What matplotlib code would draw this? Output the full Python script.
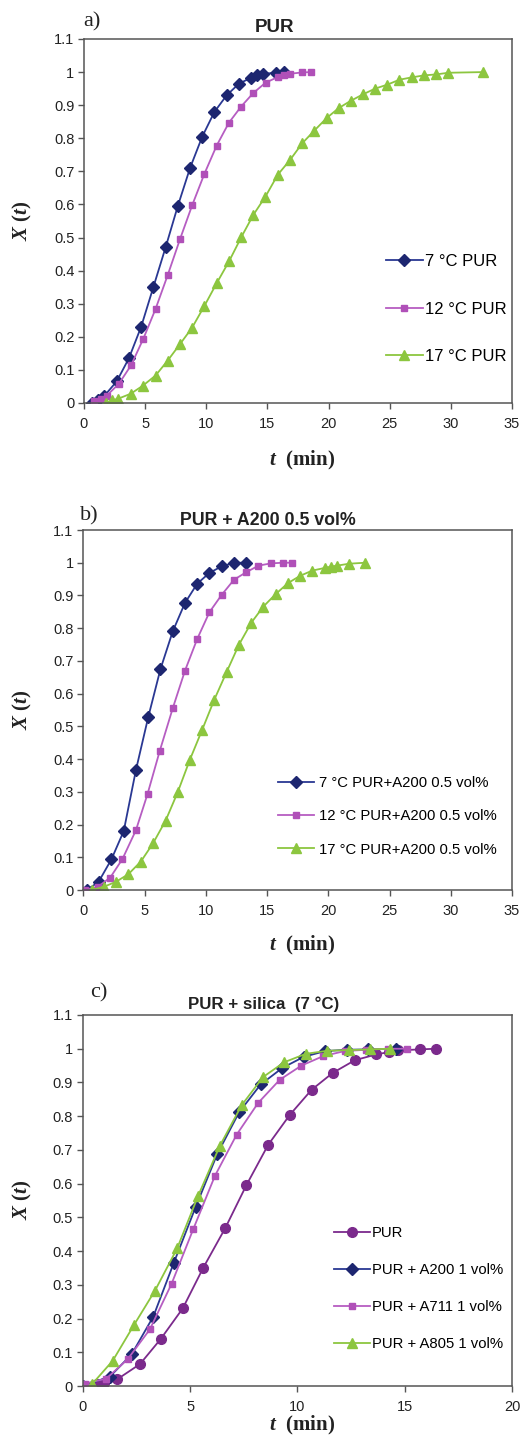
import matplotlib
matplotlib.use('Agg')
import matplotlib.pyplot as plt

plt.rcParams['font.family'] = ['Liberation Sans', 'DejaVu Sans']
plt.rcParams['mathtext.fontset'] = 'custom'
plt.rcParams['mathtext.it'] = 'Liberation Serif:italic:bold'
plt.rcParams['mathtext.rm'] = 'Liberation Serif:bold'
plt.rcParams['mathtext.bf'] = 'Liberation Serif:bold'

# ---- panel a: PUR at three temperatures ----
t_a7 = [0.67, 1.17, 1.67, 2.67, 3.67, 4.67, 5.67, 6.67, 7.67, 8.67, 9.67, 10.67,
        11.67, 12.67, 13.67, 14.17, 14.67, 15.67, 16.35]
x_a7 = [0.0, 0.01, 0.022, 0.065, 0.135, 0.23, 0.35, 0.47, 0.595, 0.71, 0.805, 0.88,
        0.93, 0.965, 0.983, 0.99, 0.995, 0.998, 1.0]
t_a12 = [0.85, 1.35, 1.85, 2.85, 3.85, 4.85, 5.85, 6.85, 7.85, 8.85, 9.85, 10.85,
         11.85, 12.85, 13.85, 14.85, 15.85, 16.35, 16.85, 17.85, 18.6]
x_a12 = [0.005, 0.012, 0.022, 0.058, 0.114, 0.194, 0.284, 0.387, 0.495, 0.598, 0.693,
         0.778, 0.847, 0.896, 0.937, 0.968, 0.985, 0.992, 0.995, 0.999, 1.0]
t_a17 = [1.8, 2.3, 2.8, 3.82, 4.8, 5.85, 6.84, 7.85, 8.83, 9.84, 10.85, 11.86, 12.86,
         13.84, 14.84, 15.85, 16.86, 17.85, 18.83, 19.84, 20.82, 21.8, 22.83, 23.8,
         24.8, 25.8, 26.8, 27.8, 28.8, 29.8, 32.6]
x_a17 = [0.0, 0.008, 0.013, 0.028, 0.052, 0.083, 0.128, 0.178, 0.227, 0.293, 0.362,
         0.428, 0.501, 0.568, 0.624, 0.69, 0.735, 0.785, 0.823, 0.861, 0.891, 0.913,
         0.933, 0.95, 0.962, 0.977, 0.984, 0.99, 0.993, 0.998, 1.0]

# ---- panel b: PUR + A200 0.5 vol% ----
t_b7 = [0.3, 1.25, 2.3, 3.3, 4.3, 5.3, 6.3, 7.3, 8.3, 9.3, 10.3, 11.3, 12.3, 13.3]
x_b7 = [0.0, 0.025, 0.094, 0.18, 0.367, 0.528, 0.675, 0.79, 0.877, 0.936, 0.969,
        0.989, 1.0, 1.0]
t_b12 = [0.1, 1.2, 2.2, 3.2, 4.3, 5.25, 6.25, 7.3, 8.3, 9.3, 10.3, 11.3, 12.3, 13.3,
         14.3, 15.3, 16.3, 17.0]
x_b12 = [0.0, 0.01, 0.038, 0.095, 0.183, 0.294, 0.426, 0.555, 0.67, 0.767, 0.849,
         0.902, 0.948, 0.971, 0.991, 0.998, 1.0, 1.0]
t_b17 = [0.68, 1.69, 2.66, 3.67, 4.7, 5.7, 6.72, 7.7, 8.7, 9.7, 10.7, 11.7, 12.7,
         13.72, 14.7, 15.7, 16.72, 17.7, 18.7, 19.7, 20.2, 20.7, 21.7, 23.0]
x_b17 = [0.0, 0.01, 0.025, 0.048, 0.087, 0.143, 0.212, 0.298, 0.398, 0.489, 0.582,
         0.666, 0.749, 0.817, 0.866, 0.904, 0.938, 0.96, 0.976, 0.984, 0.988, 0.991,
         0.997, 1.0]

# ---- panel c: PUR + silica at 7 °C ----
t_cpur = [0.65, 0.98, 1.61, 2.67, 3.63, 4.66, 5.62, 6.64, 7.63, 8.64, 9.65, 10.66,
          11.64, 12.68, 13.67, 14.25, 14.7, 15.7, 16.45]
x_cpur = [0.005, 0.008, 0.02, 0.065, 0.139, 0.23, 0.351, 0.468, 0.596, 0.715, 0.804,
          0.878, 0.928, 0.966, 0.983, 0.99, 0.995, 0.998, 1.0]
t_c200 = [0.0, 1.27, 2.28, 3.29, 4.25, 5.27, 6.27, 7.29, 8.29, 9.3, 10.3, 11.3, 12.3,
          13.3, 14.6]
x_c200 = [0.0, 0.028, 0.094, 0.206, 0.366, 0.532, 0.688, 0.812, 0.894, 0.943, 0.976,
          0.993, 0.997, 0.998, 1.0]
t_c711 = [0.1, 1.1, 2.09, 3.13, 4.14, 5.15, 6.16, 7.17, 8.17, 9.18, 10.19, 11.2, 12.2,
          13.2, 14.2, 15.1]
x_c711 = [0.007, 0.022, 0.079, 0.168, 0.303, 0.465, 0.623, 0.745, 0.839, 0.908, 0.95,
          0.978, 0.993, 0.997, 1.0, 1.0]
t_c805 = [0.43, 1.4, 2.39, 3.37, 4.4, 5.38, 6.39, 7.4, 8.4, 9.39, 10.4, 11.4, 12.4,
          13.4, 14.3]
x_c805 = [0.005, 0.075, 0.181, 0.283, 0.408, 0.564, 0.712, 0.832, 0.916, 0.96, 0.985,
          0.994, 0.996, 0.998, 1.0]

NAVY = '#2A3893'
NAVY_M = '#1D2670'
PINK = '#B65DC2'
PINK_M = '#B050B8'
GREEN = '#8CC63F'
PURPLE = '#7B2A8C'

STYLE = {
    'navy': dict(color=NAVY, marker='D', markersize=6, markerfacecolor=NAVY_M,
                 markeredgecolor=NAVY_M),
    'pink': dict(color=PINK, marker='s', markersize=5, markerfacecolor=PINK_M,
                 markeredgecolor=PINK_M),
    'green': dict(color=GREEN, marker='^', markersize=7.5, markerfacecolor=GREEN,
                  markeredgecolor=GREEN),
    'purple': dict(color=PURPLE, marker='o', markersize=7, markerfacecolor=PURPLE,
                   markeredgecolor=PURPLE),
}

W, H = 525, 1441
fig = plt.figure(figsize=(W / 100, H / 100), dpi=100)


def px_axes(left, right, top, bottom):
    return fig.add_axes([left / W, 1 - bottom / H, (right - left) / W, (bottom - top) / H])


def style_axes(ax, xmax, xstep):
    ax.set_xlim(0, xmax)
    ax.set_ylim(0, 1.1)
    ax.set_xticks(range(0, xmax + 1, xstep))
    ax.set_yticks([i / 10 for i in range(12)])
    ax.set_yticklabels(['0', '0.1', '0.2', '0.3', '0.4', '0.5', '0.6', '0.7', '0.8',
                        '0.9', '1', '1.1'])
    for s in ax.spines.values():
        s.set_color('#555555')
        s.set_linewidth(1.1)
    ax.tick_params(direction='out', length=4, width=1, color='#555555',
                   labelsize=10.5, labelcolor='#222222', pad=3)
    ax.tick_params(axis='x', pad=6)


def labels(ax, tag, tag_xy, title, title_size, title_xy, ylab_y, xlab_y, xlab_x):
    fig.text(tag_xy[0] / W, 1 - tag_xy[1] / H, tag, family='Liberation Serif',
             fontsize=16, ha='left', va='center', color='#222222')
    fig.text(title_xy[0] / W, 1 - title_xy[1] / H, title, fontsize=title_size,
             fontweight='bold', ha='center', va='center', color='#222222')
    fig.text(22 / W, 1 - ylab_y / H, r'$X\ (t)$', fontsize=15, rotation=90,
             ha='center', va='center', color='#222222')
    fig.text(xlab_x / W, 1 - xlab_y / H, r'$t\ \ \mathrm{(min)}$', fontsize=15,
             ha='center', va='center', color='#222222')


# panel a
ax1 = px_axes(84, 512, 39, 403)
ax1.plot(t_a7, x_a7, lw=1.3, label='7 °C PUR', **STYLE['navy'])
ax1.plot(t_a12, x_a12, lw=1.3, label='12 °C PUR', **STYLE['pink'])
ax1.plot(t_a17, x_a17, lw=1.3, label='17 °C PUR', **STYLE['green'])
style_axes(ax1, 35, 5)
labels(ax1, 'a)', (83, 22), 'PUR', 13.5, (275, 27), 221, 460, 302)
ax1.legend(loc='upper left', bbox_to_anchor=(386 / W, 1 - 254 / H),
           bbox_transform=fig.transFigure, frameon=False, fontsize=12,
           handlelength=2.2, handletextpad=0.15, labelspacing=1.95,
           borderpad=0, borderaxespad=0)

# panel b
ax2 = px_axes(83.3, 512, 530, 890)
ax2.plot(t_b7, x_b7, lw=1.3, label='7 °C PUR+A200 0.5 vol%', **STYLE['navy'])
ax2.plot(t_b12, x_b12, lw=1.3, label='12 °C PUR+A200 0.5 vol%', **STYLE['pink'])
ax2.plot(t_b17, x_b17, lw=1.3, label='17 °C PUR+A200 0.5 vol%', **STYLE['green'])
style_axes(ax2, 35, 5)
labels(ax2, 'b)', (80, 516), 'PUR + A200 0.5 vol%', 12.8, (268, 520), 710, 945, 302)
ax2.legend(loc='upper left', bbox_to_anchor=(278 / W, 1 - 776 / H),
           bbox_transform=fig.transFigure, frameon=False, fontsize=10.7,
           handlelength=2.4, handletextpad=0.35, labelspacing=1.3,
           borderpad=0, borderaxespad=0)

# panel c
ax3 = px_axes(82.7, 512, 1015, 1386)
ax3.plot(t_cpur, x_cpur, lw=1.3, label='PUR', **STYLE['purple'])
ax3.plot(t_c200, x_c200, lw=1.3, label='PUR + A200 1 vol%', **STYLE['navy'])
ax3.plot(t_c711, x_c711, lw=1.3, label='PUR + A711 1 vol%', **STYLE['pink'])
ax3.plot(t_c805, x_c805, lw=1.3, label='PUR + A805 1 vol%', **STYLE['green'])
style_axes(ax3, 20, 5)
labels(ax3, 'c)', (90, 993), 'PUR + silica  (7 °C)', 12.2, (264, 1004), 1200, 1425, 302)
ax3.legend(loc='upper left', bbox_to_anchor=(334 / W, 1 - 1226 / H),
           bbox_transform=fig.transFigure, frameon=False, fontsize=10.7,
           handlelength=2.4, handletextpad=0.15, labelspacing=1.55,
           borderpad=0, borderaxespad=0)

fig.savefig('out.png', dpi=100, facecolor='white')
